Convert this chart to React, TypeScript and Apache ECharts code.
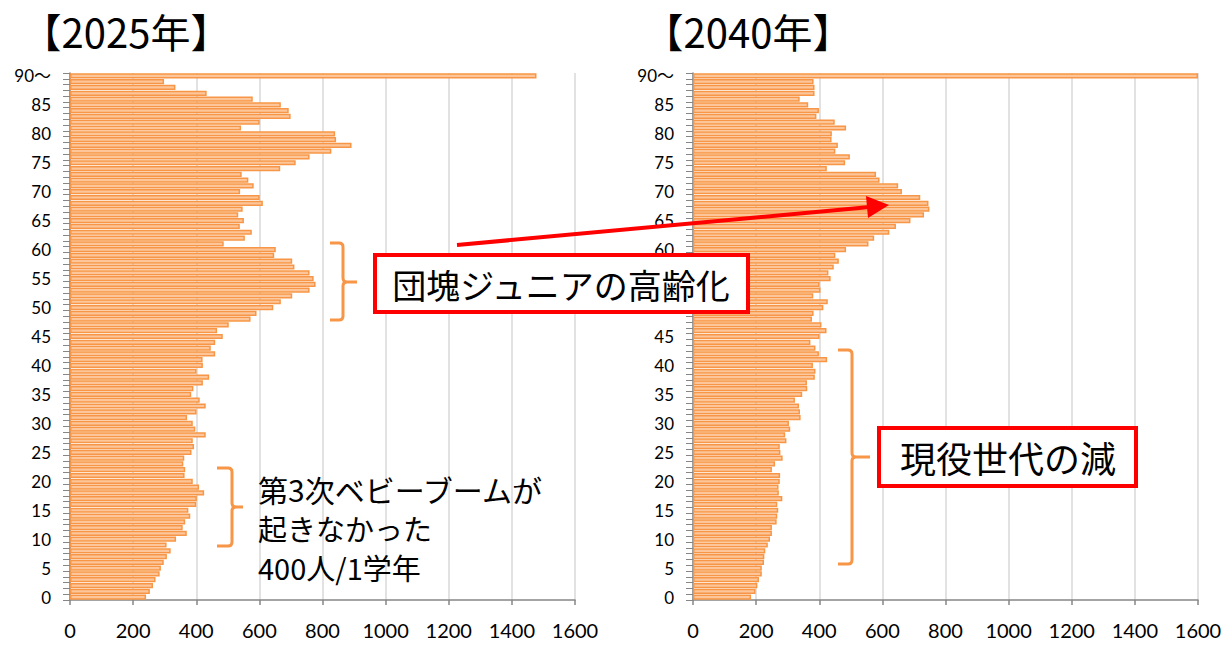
import React, { useEffect, useRef } from "react";
import * as echarts from "echarts";

// Age categories 0..89 and "90～"
const ages: string[] = [];
for (let i = 0; i <= 90; i++) ages.push(i === 90 ? "90～" : String(i));

// Population per age (index = age), 2025
const pop2025 = [
  241, 253, 263, 271, 284, 288, 297, 307, 319, 306,
  336, 370, 357, 365, 381, 375, 400, 402, 425, 409,
  389, 363, 365, 359, 362, 385, 393, 389, 430, 397,
  389, 371, 401, 430, 411, 384, 391, 421, 441, 401,
  421, 420, 460, 446, 460, 484, 466, 503, 572, 591,
  644, 668, 704, 759, 778, 772, 759, 711, 704, 647,
  652, 487, 554, 576, 538, 551, 533, 547, 611, 601,
  539, 582, 565, 544, 666, 715, 759, 828, 892, 843,
  840, 542, 601, 699, 693, 668, 579, 433, 334, 298,
  1478,
];

// Population per age (index = age), 2040
const pop2040 = [
  184, 198, 204, 209, 218, 218, 225, 226, 229, 237,
  244, 250, 250, 265, 267, 270, 267, 283, 272, 271,
  275, 276, 250, 260, 284, 277, 275, 296, 292, 308,
  304, 341, 339, 336, 323, 346, 362, 361, 386, 388,
  380, 425, 399, 388, 372, 401, 423, 407, 377, 382,
  413, 427, 381, 404, 401, 436, 429, 446, 462, 451,
  485, 556, 574, 622, 643, 689, 732, 749, 746, 720,
  662, 650, 591, 580, 424, 482, 497, 451, 459, 439,
  440, 485, 449, 391, 399, 365, 338, 385, 385, 382,
  1600,
];

const xTicks = { min: 0, max: 1600, interval: 200 };
const titles = ["【2025年】", "【2040年】"];
const note1 = "団塊ジュニアの高齢化";
const note2 = "現役世代の減";
const note3 = ["第3次ベビーブームが", "起きなかった", "400人/1学年"];
// labels of the 2040 axis that sit under the note box in the reference
const hidden2040Labels = [50, 55];

const braceA =
  "M330,243 L339,243 Q343,243 343,247 L343,278 Q343,282 347,282 L357,282 M347,282 Q343,282 343,286 L343,316 Q343,320 339,320 L330,320";
const braceB =
  "M217,468 L228,468 Q232,468 232,472 L232,503 Q232,507 236,507 L243,507 M236,507 Q232,507 232,511 L232,542 Q232,546 228,546 L217,546";
const braceC =
  "M838,350 L848,350 Q852,350 852,354 L852,453 Q852,457 856,457 L870,457 M856,457 Q852,457 852,461 L852,560 Q852,564 848,564 L838,564";

echarts.graphic.registerShape("braceA", echarts.graphic.extendPath(braceA, {}) as any);
echarts.graphic.registerShape("braceB", echarts.graphic.extendPath(braceB, {}) as any);
echarts.graphic.registerShape("braceC", echarts.graphic.extendPath(braceC, {}) as any);

const JP = "'Noto Sans CJK JP', 'Noto Sans', sans-serif";
const NUM = "Lato, 'Noto Sans CJK JP', sans-serif";

const BAR_FILL = "#FCC59A";
const BAR_EDGE = "#F79646";
const AXIS = "#868686";
const GRID = "#D9D9D9";

function txt(x: number, y: number, text: string, size: number, align = "center") {
  return {
    type: "text",
    x,
    y,
    z: 100,
    style: {
      text,
      fontSize: size,
      fontFamily: JP,
      fill: "#000",
      align,
      verticalAlign: "middle",
      textAlign: align,
      textVerticalAlign: "middle",
    },
  };
}

export default function App() {
  const ref = useRef<HTMLDivElement>(null);
  useEffect(() => {
    if (!ref.current) return;
    const chart = echarts.init(ref.current, undefined, { renderer: "svg" });
    const mkX = (gi: number) => ({
      type: "value",
      gridIndex: gi,
      min: xTicks.min,
      max: xTicks.max,
      interval: xTicks.interval,
      axisLine: { show: true, lineStyle: { color: AXIS, width: 1.5 } },
      axisTick: { show: true, length: 5, lineStyle: { color: AXIS, width: 1.5 } },
      splitLine: { show: true, lineStyle: { color: GRID, width: 1.5 } },
      axisLabel: {
        fontSize: 20,
        fontFamily: NUM,
        color: "#000",
        margin: 20,
        formatter: (v: number) => String(v),
      },
    });
    const mkY = (gi: number, hide: number[]) => ({
      type: "category",
      gridIndex: gi,
      data: ages,
      axisLine: { show: true, lineStyle: { color: AXIS, width: 1.5 } },
      axisTick: { show: true, interval: 0, length: 7, lineStyle: { color: AXIS, width: 1 } },
      axisLabel: {
        interval: (idx: number) => idx % 5 === 0 && hide.indexOf(idx) < 0,
        fontSize: 17,
        fontFamily: NUM,
        color: "#000",
        margin: 19,
      },
      splitLine: { show: false },
    });
    const mkS = (gi: number, data: number[]) => ({
      type: "bar",
      xAxisIndex: gi,
      yAxisIndex: gi,
      data,
      barCategoryGap: "10%",
      clip: true,
      itemStyle: { color: BAR_FILL, borderColor: BAR_EDGE, borderWidth: 1.5 },
    });
    chart.setOption({
      animation: false,
      grid: [
        { left: 70, right: 657, top: 73, bottom: 46 },
        { left: 693, right: 34, top: 73, bottom: 46 },
      ],
      xAxis: [mkX(0), mkX(1)],
      yAxis: [mkY(0, []), mkY(1, hidden2040Labels)],
      series: [mkS(0, pop2025), mkS(1, pop2040)],
      graphic: [
        txt(126, 31, titles[0], 40),
        txt(748, 31, titles[1], 40),
        { type: "braceA", z: 100, style: { stroke: BAR_EDGE, lineWidth: 3, fill: "none" } },
        { type: "braceB", z: 100, style: { stroke: BAR_EDGE, lineWidth: 3, fill: "none" } },
        { type: "braceC", z: 100, style: { stroke: BAR_EDGE, lineWidth: 3, fill: "none" } },
        {
          type: "line",
          z: 100,
          shape: { x1: 457, y1: 245, x2: 870, y2: 207 },
          style: { stroke: "#FF0000", lineWidth: 4 },
        },
        {
          type: "polygon",
          z: 100,
          shape: { points: [[889, 205], [866, 196], [868, 218]] },
          style: { fill: "#FF0000" },
        },
        {
          type: "rect",
          z: 100,
          shape: { x: 375, y: 255, width: 373, height: 57 },
          style: { fill: "#fff", stroke: "#FF0000", lineWidth: 4 },
        },
        txt(561, 284, note1, 34),
        {
          type: "rect",
          z: 100,
          shape: { x: 879, y: 428, width: 257, height: 58 },
          style: { fill: "#fff", stroke: "#FF0000", lineWidth: 4 },
        },
        txt(1008, 457, note2, 36),
        txt(258, 489, note3[0], 30, "left"),
        txt(258, 528, note3[1], 29, "left"),
        txt(258, 567, note3[2], 29, "left"),
      ],
    });
    return () => chart.dispose();
  }, []);
  return (
    <div
      ref={ref}
      style={{ position: "fixed", left: 0, top: 0, width: 1232, height: 646, background: "#fff" }}
    />
  );
}
